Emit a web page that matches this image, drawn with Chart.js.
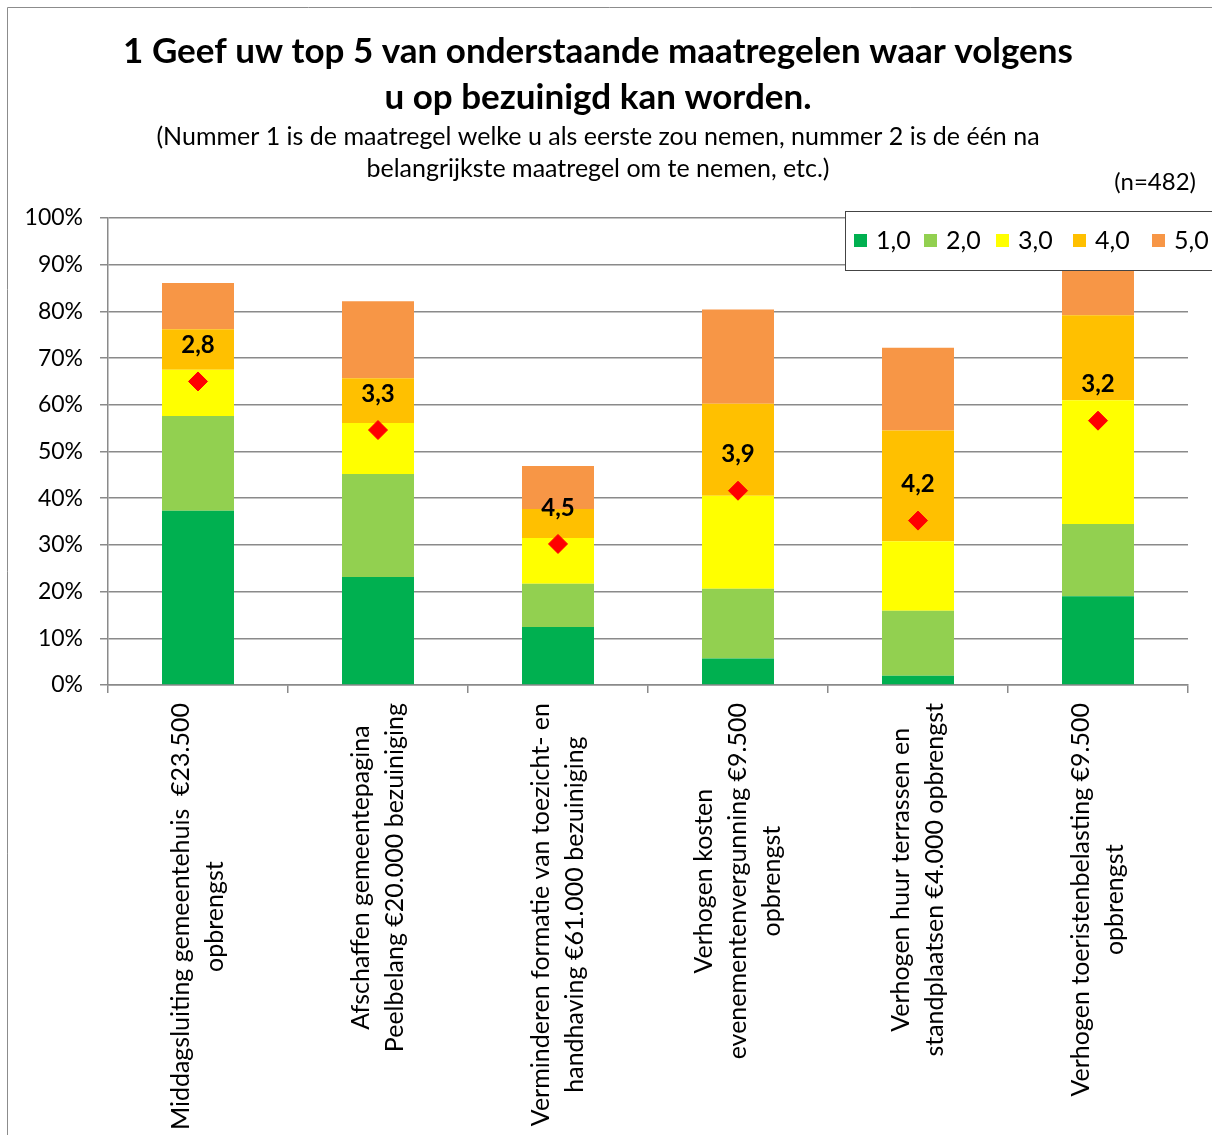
<!DOCTYPE html>
<html>
<head>
    <title>Top 5 bezuinigingsmaatregelen</title>
    <script src="https://cdn.jsdelivr.net/npm/chart.js"></script>
    <style>
        body { margin: 0; background: #fff; }
        #wrap { position: relative; width: 1212px; height: 1135px; }
    </style>
</head>
<body>
    <div id="wrap"><canvas id="chart"></canvas></div>
    <script>
        // categories (x axis, multi-line)
        const categories = [
            ['Middagsluiting gemeentehuis  €23.500', 'opbrengst'],
            ['Afschaffen gemeentepagina', 'Peelbelang €20.000 bezuiniging'],
            ['Verminderen formatie van toezicht- en', 'handhaving €61.000 bezuiniging'],
            ['Verhogen kosten', 'evenementenvergunning €9.500', 'opbrengst'],
            ['Verhogen huur terrassen en', 'standplaatsen €4.000 opbrengst'],
            ['Verhogen toeristenbelasting €9.500', 'opbrengst']
        ];
        const seriesLabels = ['1,0', '2,0', '3,0', '4,0', '5,0'];
        const seriesColors = ['#00B050', '#92D050', '#FFFF00', '#FFC000', '#F79646'];

        // percentage of respondents per rank
        const rank1 = [37.3, 23.1, 12.4, 5.7, 2.0, 19.0];
        const rank2 = [20.3, 22.1, 9.3, 14.9, 13.9, 15.5];
        const rank3 = [9.9, 10.9, 9.8, 19.9, 14.9, 26.5];
        const rank4 = [8.7, 9.6, 6.2, 19.7, 23.7, 18.2];
        const rank5 = [9.9, 16.5, 9.2, 20.2, 17.7, 10.5];

        // average rank (red diamonds, reversed secondary axis)
        const averages = [2.75, 3.27, 4.49, 3.92, 4.24, 3.17];

        const yTickValues = [0, 10, 20, 30, 40, 50, 60, 70, 80, 90, 100];

        const FONT = 'Lato, "Open Sans", sans-serif';
        const GRID = '#8a8a8a';
        const legendX = [854, 924, 996, 1073, 1152];

        const rankData = [rank1, rank2, rank3, rank4, rank5];
        const barSets = rankData.map((d, i) => ({
            type: 'bar',
            label: seriesLabels[i],
            data: d,
            backgroundColor: seriesColors[i],
            borderWidth: 0,
            categoryPercentage: 0.8,
            barPercentage: 0.5,
            yAxisID: 'y',
            order: 1
        }));

        const frame = {
            id: 'frame',
            beforeDraw(chart) {
                const ctx = chart.ctx;
                ctx.save();
                ctx.strokeStyle = '#8c8c8c';
                ctx.lineWidth = 1;
                ctx.beginPath();
                ctx.moveTo(7.5, chart.height);
                ctx.lineTo(7.5, 7.5);
                ctx.lineTo(chart.width, 7.5);
                ctx.stroke();
                ctx.restore();
            }
        };

        const avgLabels = {
            id: 'avgLabels',
            afterDatasetsDraw(chart) {
                const ctx = chart.ctx;
                const meta = chart.getDatasetMeta(0);
                ctx.save();
                ctx.font = 'bold 24px ' + FONT;
                ctx.fillStyle = '#000';
                ctx.textAlign = 'center';
                ctx.textBaseline = 'middle';
                meta.data.forEach((pt, i) => {
                    ctx.fillText(averages[i].toFixed(1).replace('.', ','), pt.x, pt.y - 36);
                });
                ctx.restore();
            }
        };

        const catLabels = {
            id: 'catLabels',
            afterDraw(chart) {
                const ctx = chart.ctx;
                const xs = chart.scales.x;
                const top = chart.chartArea.bottom + 18;
                ctx.save();
                ctx.font = '25px ' + FONT;
                ctx.fillStyle = '#000';
                ctx.textAlign = 'center';
                ctx.textBaseline = 'middle';
                categories.forEach((lines, i) => {
                    const cx = xs.getPixelForValue(i);
                    const maxW = Math.max(...lines.map(l => ctx.measureText(l).width));
                    ctx.save();
                    ctx.translate(cx, top);
                    ctx.rotate(-Math.PI / 2);
                    lines.forEach((l, j) => {
                        ctx.fillText(l, -maxW / 2, (j - (lines.length - 1) / 2) * 34);
                    });
                    ctx.restore();
                });
                ctx.restore();
            }
        };

        const legendBox = {
            id: 'legendBox',
            afterDraw(chart) {
                const ctx = chart.ctx;
                ctx.save();
                ctx.fillStyle = '#fff';
                ctx.strokeStyle = '#444';
                ctx.lineWidth = 1;
                ctx.fillRect(845.5, 211.5, 400, 59);
                ctx.strokeRect(845.5, 211.5, 400, 59);
                ctx.font = '25px ' + FONT;
                ctx.textBaseline = 'middle';
                ctx.textAlign = 'left';
                seriesLabels.forEach((lab, i) => {
                    const x = legendX[i];
                    ctx.fillStyle = seriesColors[i];
                    ctx.fillRect(x, 234, 13, 13);
                    ctx.fillStyle = '#000';
                    ctx.fillText(lab, x + 22, 241);
                });
                ctx.font = '24px ' + FONT;
                ctx.textAlign = 'right';
                ctx.fillText('(n=482)', 1196, 182);
                ctx.restore();
            }
        };

        new Chart(document.getElementById('chart'), {
            type: 'bar',
            data: {
                labels: categories,
                datasets: [{
                    type: 'line',
                    label: 'Gemiddelde',
                    data: averages,
                    yAxisID: 'y2',
                    showLine: false,
                    pointStyle: 'rectRot',
                    pointRadius: 9.5,
                    pointBackgroundColor: '#FF0000',
                    pointBorderColor: '#FF0000',
                    pointBorderWidth: 1,
                    order: 0
                }].concat(barSets)
            },
            options: {
                responsive: true,
                maintainAspectRatio: false,
                animation: false,
                layout: { padding: { left: 8, right: 24, top: 0, bottom: 442 } },
                plugins: {
                    legend: { display: false },
                    tooltip: { enabled: false },
                    title: {
                        display: true,
                        text: ['1 Geef uw top 5 van onderstaande maatregelen waar volgens', 'u op bezuinigd kan worden.'],
                        color: '#000',
                        font: { family: FONT, size: 35, weight: 'bold', lineHeight: 46 / 35 },
                        padding: { top: 29, bottom: 0 }
                    },
                    subtitle: {
                        display: true,
                        text: ['(Nummer 1 is de maatregel welke u als eerste zou nemen, nummer 2 is de één na', 'belangrijkste maatregel om te nemen, etc.)'],
                        color: '#000',
                        font: { family: FONT, size: 25, lineHeight: 32 / 25 },
                        padding: { top: 0, bottom: 33 }
                    }
                },
                scales: {
                    x: {
                        stacked: true,
                        ticks: { display: false },
                        grid: { display: true, drawOnChartArea: false, tickLength: 8, color: GRID, lineWidth: 1.5 },
                        border: { color: GRID, width: 1.5 }
                    },
                    y: {
                        stacked: true,
                        min: 0,
                        max: 100,
                        afterFit(scale) { scale.width = 100; },
                        afterBuildTicks(scale) { scale.ticks = yTickValues.map(v => ({ value: v })); },
                        ticks: {
                            padding: 17,
                            color: '#000',
                            font: { family: FONT, size: 23 },
                            callback: v => v + '%'
                        },
                        grid: { color: GRID, lineWidth: 1.5, tickLength: 8 },
                        border: { color: GRID, width: 1.5 }
                    },
                    y2: {
                        display: false,
                        reverse: true,
                        min: 1,
                        max: 6
                    }
                }
            },
            plugins: [frame, avgLabels, catLabels, legendBox]
        });
    </script>
</body>
</html>
